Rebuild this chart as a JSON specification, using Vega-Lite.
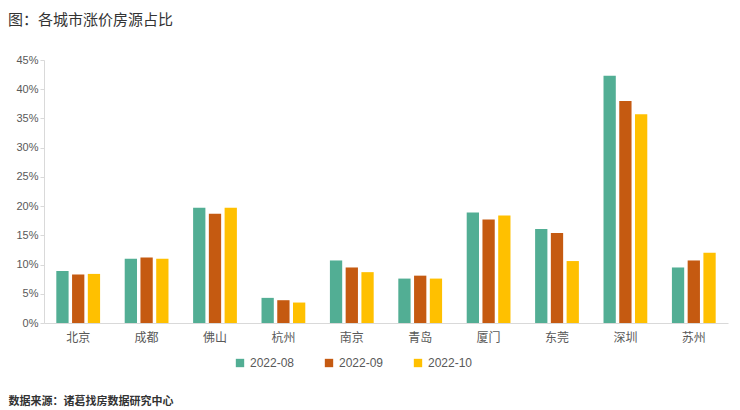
{
  "$schema": "https://vega.github.io/schema/vega-lite/v6.json",
  "width": 684,
  "height": 263,
  "autosize": "none",
  "padding": {"left": 44, "top": 60, "right": 12, "bottom": 87},
  "background": "white",
  "title": {
    "text": "图：各城市涨价房源占比",
    "anchor": "start",
    "frame": "group",
    "dx": -36,
    "offset": 26,
    "fontSize": 15,
    "fontWeight": "normal",
    "color": "#333333",
    "font": "Noto Sans CJK SC"
  },
  "data": {
    "values": [
      {"city": "北京", "month": "2022-08", "share": 8.9},
      {"city": "北京", "month": "2022-09", "share": 8.3},
      {"city": "北京", "month": "2022-10", "share": 8.4},
      {"city": "成都", "month": "2022-08", "share": 11.0},
      {"city": "成都", "month": "2022-09", "share": 11.2},
      {"city": "成都", "month": "2022-10", "share": 11.0},
      {"city": "佛山", "month": "2022-08", "share": 19.7},
      {"city": "佛山", "month": "2022-09", "share": 18.7},
      {"city": "佛山", "month": "2022-10", "share": 19.7},
      {"city": "杭州", "month": "2022-08", "share": 4.3},
      {"city": "杭州", "month": "2022-09", "share": 3.9},
      {"city": "杭州", "month": "2022-10", "share": 3.5},
      {"city": "南京", "month": "2022-08", "share": 10.7},
      {"city": "南京", "month": "2022-09", "share": 9.5},
      {"city": "南京", "month": "2022-10", "share": 8.7},
      {"city": "青岛", "month": "2022-08", "share": 7.6},
      {"city": "青岛", "month": "2022-09", "share": 8.1},
      {"city": "青岛", "month": "2022-10", "share": 7.6},
      {"city": "厦门", "month": "2022-08", "share": 18.9},
      {"city": "厦门", "month": "2022-09", "share": 17.7},
      {"city": "厦门", "month": "2022-10", "share": 18.4},
      {"city": "东莞", "month": "2022-08", "share": 16.1},
      {"city": "东莞", "month": "2022-09", "share": 15.4},
      {"city": "东莞", "month": "2022-10", "share": 10.6},
      {"city": "深圳", "month": "2022-08", "share": 42.3},
      {"city": "深圳", "month": "2022-09", "share": 38.0},
      {"city": "深圳", "month": "2022-10", "share": 35.7},
      {"city": "苏州", "month": "2022-08", "share": 9.5},
      {"city": "苏州", "month": "2022-09", "share": 10.7},
      {"city": "苏州", "month": "2022-10", "share": 12.0}
    ]
  },
  "mark": {"type": "bar"},
  "encoding": {
    "x": {
      "field": "city",
      "type": "nominal",
      "sort": null,
      "scale": {"paddingInner": 0.36, "paddingOuter": 0.18},
      "axis": {
        "title": "数据来源：诸葛找房数据研究中心",
        "titleAnchor": "start",
        "titleAlign": "left",
        "titleBaseline": "alphabetic",
        "titleX": -36,
        "titleY": 81,
        "titleFontSize": 11,
        "titleFontWeight": "bold",
        "titleColor": "#333333",
        "titleFont": "Noto Sans CJK SC",
        "labelAngle": 0,
        "labelFontSize": 12,
        "labelColor": "#595959",
        "labelFont": "Noto Sans CJK SC",
        "labelPadding": 9,
        "ticks": false,
        "domainColor": "#d9d9d9"
      }
    },
    "xOffset": {
      "field": "month",
      "type": "nominal",
      "scale": {"paddingInner": 0.22}
    },
    "y": {
      "field": "share",
      "type": "quantitative",
      "scale": {"domain": [0, 45]},
      "axis": {
        "title": null,
        "values": [0, 5, 10, 15, 20, 25, 30, 35, 40, 45],
        "labelExpr": "datum.value + '%'",
        "labelFontSize": 11,
        "labelColor": "#595959",
        "labelFont": "Liberation Sans",
        "grid": false,
        "domainColor": "#d9d9d9",
        "tickColor": "#d9d9d9",
        "tickSize": 4,
        "labelPadding": 2
      }
    },
    "color": {
      "field": "month",
      "type": "nominal",
      "scale": {"range": ["#52AE94", "#C55A11", "#FFC000"]},
      "legend": {
        "title": null,
        "orient": "none",
        "direction": "horizontal",
        "legendX": 190,
        "legendY": 297,
        "symbolType": "square",
        "symbolSize": 70,
        "symbolStrokeWidth": 0,
        "labelFontSize": 12,
        "labelColor": "#595959",
        "labelFont": "Liberation Sans",
        "columnPadding": 28,
        "labelOffset": 4
      }
    }
  },
  "config": {
    "view": {"stroke": null}
  }
}
